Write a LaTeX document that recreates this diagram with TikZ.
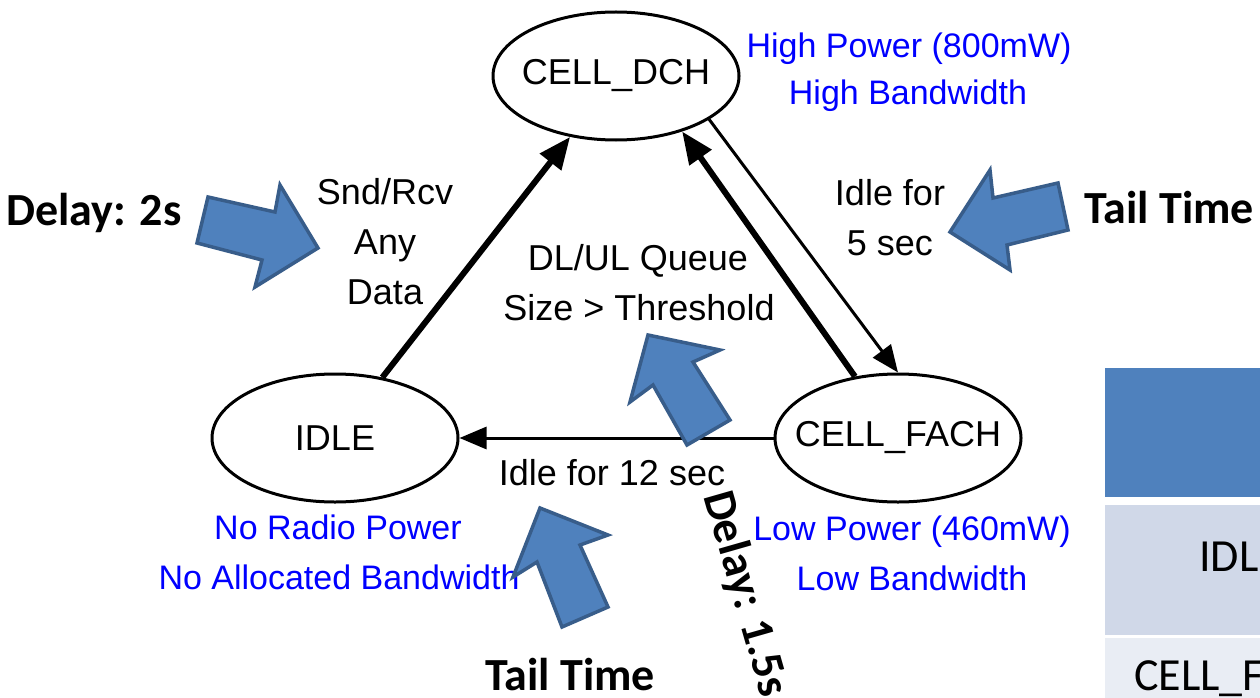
\documentclass[tikz,border=0pt]{standalone}
\usepackage{fontspec}
\setmainfont{Liberation Sans}
\newfontfamily\calib{Carlito}
\usetikzlibrary{shapes.geometric,arrows.meta}
\definecolor{lblblue}{RGB}{0,0,255}
\definecolor{blkfill}{RGB}{79,129,189}
\definecolor{blkline}{RGB}{56,93,138}
\definecolor{rowA}{RGB}{208,216,232}
\definecolor{rowB}{RGB}{233,237,244}
\newcommand{\zw}[1]{\makebox[0pt]{#1}}
\begin{document}
\begin{tikzpicture}[x=1pt,y=-1pt,
 state/.style={ellipse,draw,line width=3pt,minimum width=246pt,minimum height=128pt,inner sep=0pt,font=\fontsize{36}{42}\selectfont},
 lbl/.style={anchor=base,inner sep=0pt,font=\fontsize{36}{42}\selectfont},
 bluelbl/.style={anchor=base,inner sep=0pt,text=lblblue,font=\fontsize{34}{40}\selectfont},
 boldlbl/.style={anchor=base west,inner sep=0pt,font=\calib\bfseries\fontsize{46}{52}\selectfont},
 thickarr/.style={line width=6pt,-{Triangle[length=32pt,width=26pt]}},
 thinarr/.style={line width=3pt,-{Triangle[length=27pt,width=22pt]}},
 blockarr/.style={fill=blkfill,draw=blkline,line width=3.5pt,line join=miter},
 celltext/.style={anchor=base west,inner sep=0pt,font=\calib\fontsize{46}{52}\selectfont}
]
\useasboundingbox (0,0) rectangle (1260,698);
\clip (0,0) rectangle (1260,698);
\fill[white] (0,0) rectangle (1260,698);

% table at right
\fill[blkfill] (1105,368) rectangle (1262,497);
\fill[rowA] (1105,505) rectangle (1262,635);
\fill[rowB] (1105,638) rectangle (1262,700);
\node[celltext] (tidle) at (1199,571) {IDLE};
\node[celltext] (tfach) at (1134,690) {CELL\_FACH};

% states
\node[state] (dch) at (616,76) {\zw{CELL\_DCH}};
\node[state] (idle) at (335,438) {\zw{IDLE}};
\node[state] (fach) at (898,438) {\zw{CELL\_FACH}};

% transitions
\draw[thickarr] (idle.52) -- (dch.233);
\draw[thickarr] (fach.125) -- (dch.-40);
\draw[thinarr] (dch.-25) -- (fach.north);
\draw[thinarr] (fach.west) -- (idle.east);

% transition labels
\node[lbl] (l1) at (385,204) {Snd/Rcv};
\node[lbl] (l2) at (385,254) {Any};
\node[lbl] (l3) at (385,304) {Data};
\node[lbl] (l4) at (638,270) {DL/UL Queue};
\node[lbl] (l5) at (639,320) {Size > Threshold};
\node[lbl] (l6) at (890,205) {Idle for};
\node[lbl] (l7) at (890,255) {5 sec};
\node[lbl] (l8) at (612,485) {Idle for 12 sec};

% state descriptions
\node[bluelbl] (b1) at (909,58) {High Power (800mW)};
\node[bluelbl] (b2) at (908,105) {High Bandwidth};
\node[bluelbl] (b3) at (338,539) {No Radio Power};
\node[bluelbl] (b4) at (339,589) {No Allocated Bandwidth};
\node[bluelbl] (b5) at (912,540) {Low Power (460mW)};
\node[bluelbl] (b6) at (912,590) {Low Bandwidth};

% block arrows
\draw[blockarr] (208,197) -- (275,212) -- (280,185) -- (318,248) -- (255,287) -- (262,260) -- (197,243) -- cycle;
\draw[blockarr] (950,232) -- (990,170) -- (993,198) -- (1058,183) -- (1068,230) -- (1007,245) -- (1010,270) -- cycle;
\draw[blockarr] (648,335) -- (720,350) -- (693,362) -- (730,420) -- (687,445) -- (653,385) -- (630,402) -- cycle;
\draw[blockarr] (540,508) -- (608,535) -- (580,545) -- (608,607) -- (562,627) -- (537,562) -- (513,577) -- cycle;

% bold annotations
\node[boldlbl] (d2) at (6,225) {Delay: 2s};
\node[boldlbl] (t1) at (1084,223) {Tail Time};
\node[boldlbl] (t2) at (485,690) {Tail Time};
\node[anchor=center,inner sep=0pt,rotate=-74,font=\calib\bfseries\fontsize{46}{52}\selectfont] (d15) at (745,594) {Delay: 1.5s};
\end{tikzpicture}
\end{document}
